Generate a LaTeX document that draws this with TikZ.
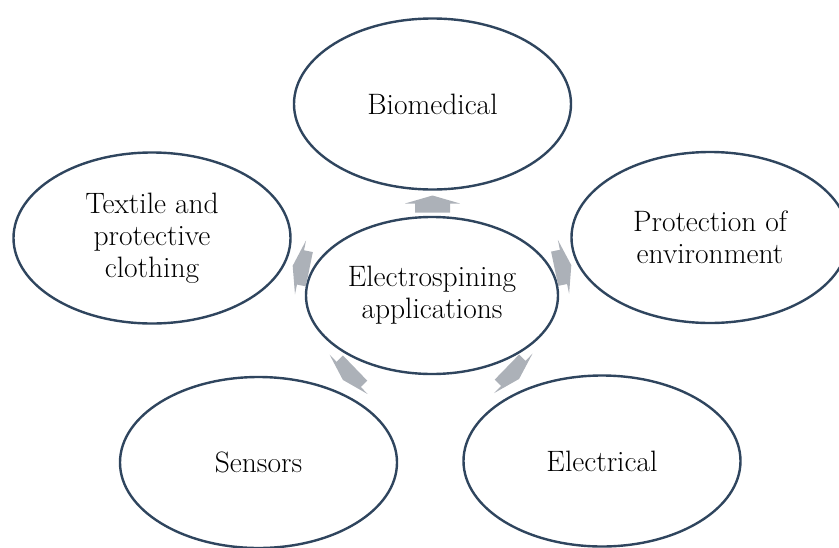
\documentclass[tikz,border=0pt]{standalone}
\usetikzlibrary{shapes.geometric}
\definecolor{rim}{RGB}{47,69,94}
\definecolor{arrowgray}{RGB}{172,177,184}
\tikzset{
  bubble/.style={ellipse, draw=rim, line width=2.4pt, fill=white, inner sep=0pt,
    minimum width=277pt, minimum height=171pt, align=center,
    font=\fontsize{29.5}{32}\selectfont},
  hub/.style={bubble, minimum width=252pt, minimum height=157pt},
  radarrow/.pic={\fill[arrowgray] (-8.5,-17.5) -- (0.5,-17.5) -- (0.5,-27.5)
    -- (8.5,0) -- (0.5,27.5) -- (0.5,17.5) -- (-8.5,17.5) -- cycle;}
}
\begin{document}
\begin{tikzpicture}[x=1pt,y=-1pt]
\useasboundingbox (0,0) rectangle (839,547);
\clip (0,0) rectangle (839,547);
\node[hub] (c) at (432,295.5) {Electrospining\\applications};
\node[bubble] (bio) at (432.5,104) {Biomedical};
\node[bubble] (tex) at (152,238) {Textile and\\protective\\clothing};
\node[bubble] (env) at (710,237.5) {Protection of\\environment};
\node[bubble] (sen) at (258.5,462.5) {Sensors};
\node[bubble] (ele) at (602,461) {Electrical};
\pic[rotate=90] (a1) at (432.5,204) {radarrow};
\pic[rotate=168.4] (a2) at (301,267.5) {radarrow};
\pic[rotate=11.8] (a3) at (563,267) {radarrow};
\pic[rotate=224] (a4) at (349,374) {radarrow};
\pic[rotate=-44.2] (a5) at (513,373) {radarrow};
\end{tikzpicture}
\end{document}
